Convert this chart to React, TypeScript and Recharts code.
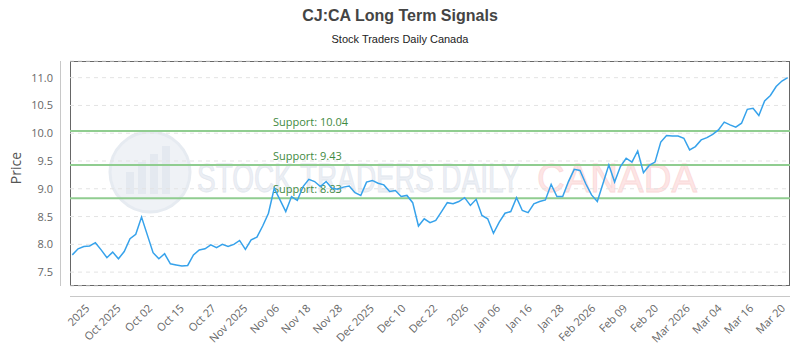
import { CartesianGrid, Line, LineChart, ReferenceLine, XAxis, YAxis } from 'recharts';

// closing prices, one per trading day
const prices = [
  7.81, 7.92, 7.96, 7.97, 8.03, 7.9, 7.76, 7.86, 7.74, 7.87,
  8.1, 8.18, 8.49, 8.17, 7.85, 7.74, 7.83, 7.65, 7.63, 7.61,
  7.62, 7.81, 7.9, 7.92, 7.99, 7.94, 8.0, 7.96, 8.0, 8.07,
  7.91, 8.08, 8.13, 8.33, 8.56, 9.01, 8.8, 8.59, 8.86, 8.79,
  9.04, 9.17, 9.13, 9.04, 9.13, 9.01, 8.99, 9.03, 9.05, 8.93,
  8.88, 9.12, 9.15, 9.1, 9.07, 8.95, 8.97, 8.86, 8.88, 8.75,
  8.33, 8.46, 8.39, 8.43, 8.59, 8.75, 8.73, 8.77, 8.84, 8.7,
  8.81, 8.52, 8.46, 8.2, 8.4, 8.56, 8.59, 8.84, 8.61, 8.57,
  8.73, 8.77, 8.8, 9.08, 8.86, 8.86, 9.13, 9.35, 9.33, 9.09,
  8.89, 8.77, 9.1, 9.43, 9.12, 9.4, 9.55, 9.48, 9.68, 9.29,
  9.42, 9.48, 9.84, 9.96, 9.95, 9.95, 9.91, 9.7, 9.76, 9.88,
  9.92, 9.98, 10.06, 10.2, 10.15, 10.11, 10.18, 10.43, 10.45, 10.32,
  10.58, 10.68, 10.84, 10.94, 11.0,
];

// where the date labels sit, in trading-day index units
const tickPos = [
  3.1, 8.5, 14.0, 19.5, 25.0, 30.5, 36.0, 41.4, 46.9, 52.4, 57.9, 63.4,
  68.8, 74.3, 79.8, 85.3, 90.8, 96.3, 101.7, 107.2, 112.7, 118.2, 123.7,
];
const tickLabels = [
  '2025', 'Oct 2025', 'Oct 02', 'Oct 15', 'Oct 27', 'Nov 2025', 'Nov 06', 'Nov 18',
  'Nov 28', 'Dec 2025', 'Dec 10', 'Dec 22', '2026', 'Jan 06', 'Jan 16', 'Jan 28',
  'Feb 2026', 'Feb 09', 'Feb 20', 'Mar 2026', 'Mar 04', 'Mar 16', 'Mar 20',
];

const supportLevels = [10.04, 9.43, 8.83];
const yTicks = [7.5, 8.0, 8.5, 9.0, 9.5, 10.0, 10.5, 11.0];

const data = prices.map((price, i) => ({ i, price }));
const labelFor = new Map(tickPos.map((p, k) => [p, tickLabels[k]]));

const FONT = '"Open Sans", sans-serif';

function XTick({ x, y, payload }: any) {
  const ty = y + 23;
  return (
    <text
      x={x}
      y={ty}
      transform={`rotate(-45, ${x}, ${ty})`}
      textAnchor="end"
      fontSize={11}
      fontFamily={FONT}
      fill="#666"
    >
      {labelFor.get(payload.value) ?? ''}
    </text>
  );
}

function YTick({ x, y, payload }: any) {
  return (
    <text x={x - 17} y={y + 4} textAnchor="end" fontSize={11} fontFamily={FONT} fill="#666">
      {Number(payload.value).toFixed(1)}
    </text>
  );
}

function SupportLabel({ viewBox, text }: any) {
  if (!viewBox) return null;
  return (
    <text x={viewBox.x + 203} y={viewBox.y - 5} fontSize={11} fontFamily={FONT} fill="#3f8a3f">
      {text}
    </text>
  );
}

function Backdrop() {
  return (
    <svg width={800} height={350} style={{ position: 'absolute', left: 0, top: 0 }}>
      <text x={400} y={21} textAnchor="middle" fontSize={16} fontWeight="bold" fontFamily='"Liberation Sans", Arial, sans-serif' fill="#444">
        CJ:CA Long Term Signals
      </text>
      <text x={400} y={43} textAnchor="middle" fontSize={11} fontFamily='"Liberation Sans", Arial, sans-serif' fill="#222">
        Stock Traders Daily Canada
      </text>

      {/* watermark */}
      <g opacity={0.9}>
        <circle cx={150} cy={172} r={40} fill="#eef1f6" stroke="#e4e9f0" strokeWidth={3} />
        <rect x={126} y={172} width={8} height={22} fill="#e2e7ef" />
        <rect x={138} y={162} width={8} height={32} fill="#e2e7ef" />
        <rect x={150} y={154} width={8} height={40} fill="#e2e7ef" />
        <rect x={162} y={146} width={8} height={48} fill="#e2e7ef" />
        <text x={197} y={192} fontSize={40} fontFamily='"Liberation Sans Narrow", "Liberation Sans", sans-serif' textLength={323} lengthAdjust="spacingAndGlyphs" fill="#eaeef4" stroke="#dfe5ed" strokeWidth={0.8}>
          STOCK TRADERS DAILY
        </text>
        <text x={537} y={192} fontSize={40} fontFamily='"Liberation Sans Narrow", "Liberation Sans", sans-serif' textLength={160} lengthAdjust="spacingAndGlyphs" fill="#fde3e3" stroke="#fbd6d6" strokeWidth={0.8}>
          CANADA
        </text>
      </g>

      <text x={0} y={0} transform="translate(21, 168) rotate(-90)" textAnchor="middle" fontSize={14} fontFamily={FONT} fill="#555">
        Price
      </text>

      <line x1={60.5} y1={61} x2={60.5} y2={286} stroke="#c8c8c8" />
      <line x1={70} y1={296.5} x2={790} y2={296.5} stroke="#c8c8c8" />
      <rect x={70.5} y={61.5} width={719} height={224} fill="none" stroke="#666" />
    </svg>
  );
}

export default function App() {
  return (
    <div style={{ position: 'absolute', left: 0, top: 0, width: 800, height: 350, background: '#fff' }}>
      <Backdrop />
      <div style={{ position: 'absolute', left: 0, top: 0 }}>
        <LineChart width={800} height={350} data={data} margin={{ top: 61, right: 10, bottom: 0, left: 0 }}>
          <CartesianGrid vertical={false} stroke="#e3e3e3" strokeDasharray="4 4" />
          <XAxis
            type="number"
            dataKey="i"
            domain={[-0.4, 124.4]}
            ticks={tickPos}
            interval={0}
            allowDataOverflow
            height={64}
            axisLine={false}
            tickLine={false}
            tickSize={0}
            tickMargin={0}
            tick={<XTick />}
          />
          <YAxis
            type="number"
            domain={[7.25, 11.3]}
            ticks={yTicks}
            interval={0}
            allowDataOverflow
            width={70}
            axisLine={false}
            tickLine={false}
            tickSize={0}
            tickMargin={0}
            tick={<YTick />}
          />
          {supportLevels.map((s) => (
            <ReferenceLine
              key={s}
              y={s}
              stroke="#90cd90"
              strokeWidth={2}
              label={<SupportLabel text={`Support: ${s.toFixed(2)}`} />}
            />
          ))}
          <Line
            type="linear"
            dataKey="price"
            stroke="#36a2eb"
            strokeWidth={1.5}
            dot={false}
            isAnimationActive={false}
          />
        </LineChart>
      </div>
    </div>
  );
}
